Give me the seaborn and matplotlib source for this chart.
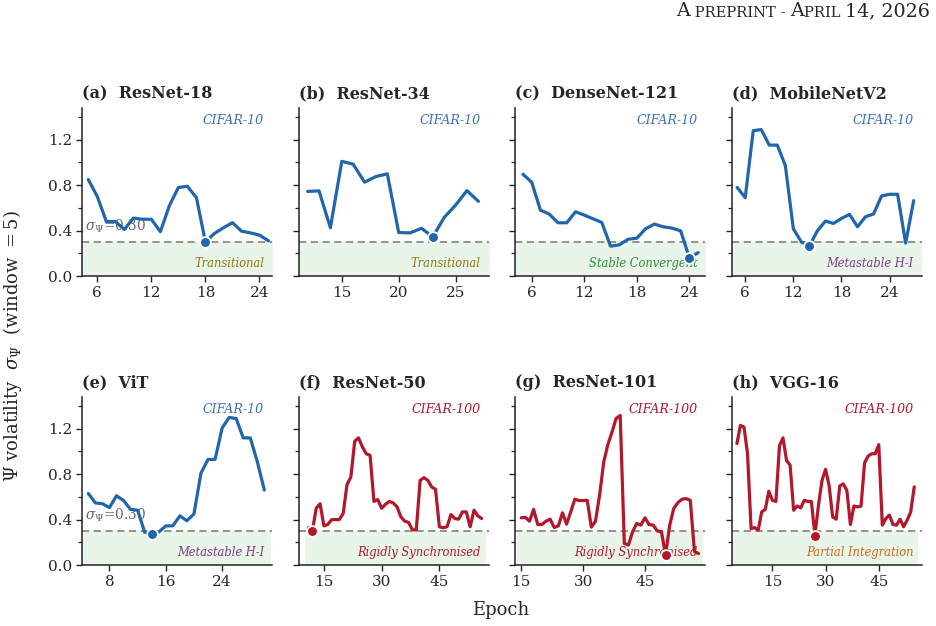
"""
Psi volatility per architecture, 2x4 grid
"""

import numpy as np
import pandas as pd
import matplotlib.pyplot as plt
from matplotlib.ticker import MultipleLocator
import seaborn as sns

# ---- data ----
titles = ['(a)  ResNet-18', '(b)  ResNet-34', '(c)  DenseNet-121', '(d)  MobileNetV2',
          '(e)  ViT', '(f)  ResNet-50', '(g)  ResNet-101', '(h)  VGG-16']
datasets = ['CIFAR-10', 'CIFAR-10', 'CIFAR-10', 'CIFAR-10',
            'CIFAR-10', 'CIFAR-100', 'CIFAR-100', 'CIFAR-100']
regimes = ['Transitional', 'Transitional', 'Stable Convergent', 'Metastable H-I',
           'Metastable H-I', 'Rigidly Synchronised', 'Rigidly Synchronised', 'Partial Integration']
first_epoch = [5, 12, 5, 5, 5, 11, 15, 5]

vol_resnet18 = [0.85, 0.70, 0.48, 0.48, 0.41, 0.51, 0.50, 0.50, 0.39, 0.62, 0.78, 0.79,
                0.69, 0.30, 0.375, 0.425, 0.47, 0.395, 0.38, 0.36, 0.31]
vol_resnet34 = [0.745, 0.75, 0.425, 1.01, 0.985, 0.826, 0.876, 0.90, 0.383, 0.38, 0.42,
                0.345, 0.516, 0.625, 0.752, 0.658]
vol_densenet121 = [0.897, 0.826, 0.58, 0.546, 0.469, 0.469, 0.566, 0.537, 0.504, 0.472,
                   0.263, 0.274, 0.324, 0.333, 0.416, 0.457, 0.434, 0.422, 0.398, 0.16, 0.206]
vol_mobilenetv2 = [0.78, 0.69, 1.28, 1.29, 1.153, 1.153, 0.973, 0.416, 0.30, 0.265, 0.398,
                   0.484, 0.463, 0.507, 0.543, 0.434, 0.522, 0.546, 0.705, 0.72, 0.72, 0.29,
                   0.664]
vol_vit = [0.63, 0.547, 0.54, 0.506, 0.61, 0.568, 0.49, 0.483, 0.29, 0.27, 0.29, 0.345,
           0.345, 0.433, 0.39, 0.45, 0.81, 0.93, 0.93, 1.206, 1.30, 1.29, 1.12, 1.12,
           0.91, 0.66]
vol_resnet50 = [0.33, 0.30, 0.50, 0.54, 0.345, 0.357, 0.40, 0.40, 0.40, 0.454, 0.708, 0.776,
                1.09, 1.12, 1.04, 0.98, 0.966, 0.56, 0.577, 0.50, 0.535, 0.56, 0.547, 0.512,
                0.424, 0.386, 0.375, 0.31, 0.31, 0.746, 0.77, 0.746, 0.688, 0.667, 0.337,
                0.328, 0.337, 0.445, 0.41, 0.404, 0.468, 0.468, 0.337, 0.483, 0.433, 0.41]
vol_resnet101 = [0.416, 0.42, 0.386, 0.49, 0.357, 0.357, 0.386, 0.404, 0.33, 0.345, 0.46,
                 0.36, 0.468, 0.58, 0.568, 0.568, 0.57, 0.334, 0.386, 0.615, 0.907, 1.06,
                 1.17, 1.29, 1.317, 0.19, 0.176, 0.293, 0.366, 0.351, 0.416, 0.357, 0.351,
                 0.30, 0.293, 0.088, 0.35, 0.50, 0.55, 0.58, 0.585, 0.57, 0.12, 0.10]
vol_vgg16 = [1.07, 1.23, 1.215, 0.98, 0.32, 0.33, 0.307, 0.468, 0.49, 0.65, 0.57, 0.56,
             1.05, 1.12, 0.92, 0.88, 0.483, 0.52, 0.503, 0.57, 0.56, 0.56, 0.26, 0.527,
             0.746, 0.843, 0.70, 0.424, 0.404, 0.697, 0.714, 0.658, 0.357, 0.52, 0.512,
             0.518, 0.90, 0.96, 0.98, 0.98, 1.06, 0.351, 0.41, 0.44, 0.357, 0.351, 0.404,
             0.337, 0.395, 0.468, 0.688]
all_vols = [vol_resnet18, vol_resnet34, vol_densenet121, vol_mobilenetv2,
            vol_vit, vol_resnet50, vol_resnet101, vol_vgg16]

threshold = 0.30

# ---- styling ----
c10_line = '#2166ac'
c100_line = '#b2182b'
regime_colors = {'Transitional': '#8c7a14', 'Stable Convergent': '#2e8b3e',
                 'Metastable H-I': '#7d3c8c', 'Rigidly Synchronised': '#b2182b',
                 'Partial Integration': '#cc6a1e'}
xlims = [(4.3, 25.4), (11.2, 27.9), (4.1, 25.8), (4.3, 28.0),
         (4.1, 31.1), (8.4, 57.8), (13.5, 59.6), (3.5, 57.1)]
xsteps = [6, 5, 6, 6, 8, 15, 15, 15]

sns.set_theme(style='ticks')
plt.rcParams['font.family'] = ['DejaVu Serif']
plt.rcParams['mathtext.fontset'] = 'dejavuserif'

fig, axes = plt.subplots(2, 4, figsize=(9.36, 6.26), dpi=100, sharey=True)
fig.subplots_adjust(left=0.0876, right=0.9847, bottom=0.0974, top=0.8275,
                    wspace=0.139, hspace=0.72)

for i, ax in enumerate(axes.flat):
    vols = all_vols[i]
    df = pd.DataFrame({'epoch': np.arange(first_epoch[i], first_epoch[i] + len(vols)),
                       'vol': vols})
    color = c10_line if datasets[i] == 'CIFAR-10' else c100_line

    lo, hi = df['epoch'].min() - 1, df['epoch'].max() + 1
    ax.fill_between([lo, hi], 0, threshold, color='#2ca02c', alpha=0.1, lw=0, zorder=0)
    ax.axhline(threshold, color='#8a8a8a', lw=1.3, ls=(0, (4, 2.5)), zorder=1)

    sns.lineplot(data=df, x='epoch', y='vol', ax=ax, color=color, lw=2.3, zorder=3)
    low = df.loc[[df['vol'].idxmin()]]
    sns.scatterplot(data=low, x='epoch', y='vol', ax=ax, color=color, s=60,
                    edgecolor='white', linewidth=1.3, zorder=4)

    ax.set_xlim(*xlims[i])
    ax.set_ylim(0, 1.48)
    ax.xaxis.set_major_locator(MultipleLocator(xsteps[i]))
    ax.yaxis.set_major_locator(MultipleLocator(0.4))
    ax.yaxis.set_minor_locator(MultipleLocator(0.2))
    ax.tick_params(axis='both', which='major', length=4, width=1, labelsize=11, pad=3)
    ax.tick_params(axis='y', which='minor', length=3, width=0.9)
    ax.set_xlabel('')
    ax.set_ylabel('')
    ax.set_title(titles[i], loc='left', fontsize=11.5, fontweight='bold', pad=7)

    ax.text(0.958, 0.925, datasets[i], transform=ax.transAxes, ha='right', va='center',
            fontsize=9.1, style='italic', color='#3a72b5' if datasets[i] == 'CIFAR-10' else c100_line)
    ax.text(0.958, 0.077, regimes[i], transform=ax.transAxes, ha='right', va='center',
            fontsize=8.3, style='italic', color=regime_colors[regimes[i]], zorder=2)
    if i % 4 == 0:
        ax.text(0.018, threshold + 0.065, r'$\sigma_\Psi$=0.30', transform=ax.get_yaxis_transform(),
                ha='left', va='bottom', fontsize=9.8, color='#666666', zorder=2)

    for sp in ['left', 'bottom']:
        ax.spines[sp].set_linewidth(1.1)
        ax.spines[sp].set_color('#222222')
    sns.despine(ax=ax)

fig.text(0.013, 0.447, r'$\Psi$ volatility  $\sigma_\Psi$  (window $= 5$)', rotation=90,
         ha='center', va='center', fontsize=13)
fig.text(0.535, 0.025, 'Epoch', ha='center', va='center', fontsize=13)

# header in faux small caps
pieces = [('A', 13.8), (' PREPRINT - ', 10.6), ('A', 13.8), ('PRIL ', 10.6), ('14, 2026', 13.8)]
prev = fig.text(0.722, 0.968, pieces[0][0], fontsize=pieces[0][1], va='bottom', ha='left')
for s, fs in pieces[1:]:
    prev = axes[0, 0].annotate(s, xy=(1, 0), xycoords=prev, va='bottom', ha='left',
                               fontsize=fs, annotation_clip=False)

plt.savefig('out.png', dpi=100)
plt.close()
